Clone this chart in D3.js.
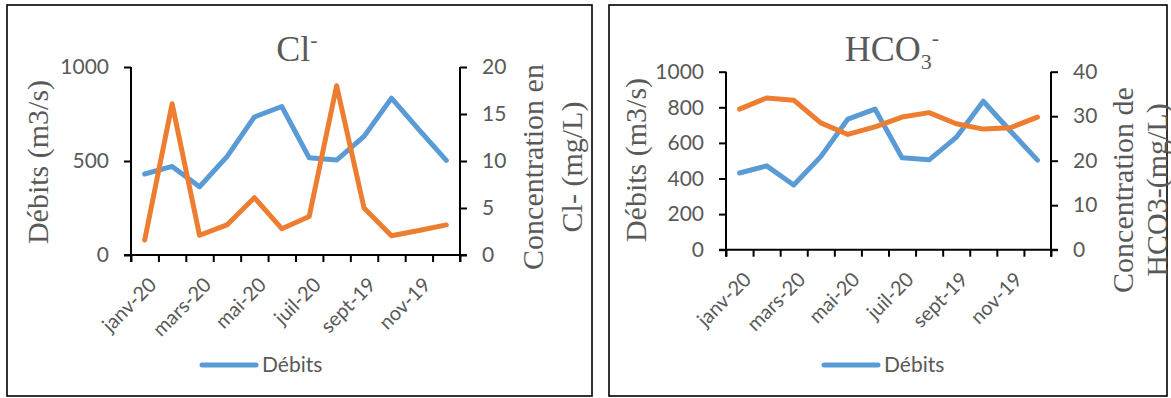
<!DOCTYPE html>
<html>
<head>
<meta charset="utf-8">
<script src="https://cdn.jsdelivr.net/npm/d3@7/dist/d3.min.js"></script>
<style>
  html, body { margin: 0; padding: 0; background: #fff; }
  svg { display: block; }
  .tick text { font-family: Lato, "Liberation Sans", sans-serif; font-size: 21px; fill: #595959; }
</style>
</head>
<body>
<svg id="chart" width="1171" height="398"></svg>
<script>
// ---- Data ----
const months = ["janv-20","févr-20","mars-20","avr-20","mai-20","juin-20","juil-20","août-20","sept-19","oct-19","nov-19","déc-19"];
const debits = [431, 471, 363, 523, 734, 790, 517, 505, 631, 834, 667, 503];
const chloride = [1.6, 16.1, 2.1, 3.2, 6.1, 2.8, 4.1, 18.0, 5.0, 2.05, 2.6, 3.2];
const bicarbonate = [31.6, 34.1, 33.6, 28.5, 25.9, 27.6, 29.8, 30.8, 28.3, 27.1, 27.4, 29.8];
const debitTicksCl = [0, 500, 1000];
const debitTicksHco3 = [0, 200, 400, 600, 800, 1000];
const clTicks = [0, 5, 10, 15, 20];
const hco3Ticks = [0, 10, 20, 30, 40];

const svg = d3.select("#chart");
const BLUE = "#5B9BD5", ORANGE = "#ED7D31", GREY = "#595959";

function drawChart(o) {
  const g = svg.append("g");
  // frame
  g.append("rect").attr("x", o.frame[0]).attr("y", o.frame[1])
    .attr("width", o.frame[2]).attr("height", o.frame[3])
    .attr("fill", "#fff").attr("stroke", "#000").attr("stroke-width", 1.6);

  const x = d3.scaleBand().domain(months).range([o.left, o.right]);
  const xi = d3.scaleLinear().domain([0, months.length]).range([o.left, o.right]);
  const yL = d3.scaleLinear().domain([0, d3.max(o.leftTicks)]).range([o.bottom, o.top]);
  const yR = d3.scaleLinear().domain([0, d3.max(o.rightTicks)]).range([o.bottom, o.top]);

  // x axis (boundary ticks)
  const xa = g.append("g").attr("transform", `translate(0,${o.bottom})`)
    .call(d3.axisBottom(xi).tickValues(d3.range(months.length + 1)).tickSize(7).tickFormat(""));
  xa.selectAll("path,line").attr("stroke", "#000").attr("stroke-width", 2);
  xa.select(".domain").attr("d", `M${o.left - 7},0H${o.right + 7}`);

  // category labels (every other)
  g.append("g").selectAll("text").data(months.filter((d, i) => i % 2 === 0)).join("text")
    .attr("transform", d => `translate(${x(d) + x.bandwidth() / 2 + 13},${o.bottom + 31}) rotate(-45)`)
    .attr("text-anchor", "end")
    .style("font-family", "Lato, 'Liberation Sans', sans-serif").style("font-size", "20px")
    .attr("fill", GREY).text(d => d);

  // left axis
  const la = g.append("g").attr("transform", `translate(${o.left},0)`)
    .call(d3.axisLeft(yL).tickValues(o.leftTicks).tickSize(7).tickPadding(15).tickFormat(d3.format("d")));
  la.selectAll("line,path").attr("stroke", "#000").attr("stroke-width", 2);
  la.select(".domain").attr("d", `M0,${o.top}V${o.bottom + 7}`);

  // right axis
  const ra = g.append("g").attr("transform", `translate(${o.right},0)`)
    .call(d3.axisRight(yR).tickValues(o.rightTicks).tickSize(7).tickPadding(15).tickFormat(d3.format("d")));
  ra.selectAll("line,path").attr("stroke", "#000").attr("stroke-width", 2);
  ra.select(".domain").attr("d", `M0,${o.top}V${o.bottom + 7}`);

  // lines
  const cx = (d, i) => x(months[i]) + x.bandwidth() / 2;
  g.append("path").datum(debits)
    .attr("d", d3.line().x(cx).y(d => yL(d)))
    .attr("fill", "none").attr("stroke", BLUE).attr("stroke-width", 5)
    .attr("stroke-linejoin", "round").attr("stroke-linecap", "round");
  g.append("path").datum(o.conc)
    .attr("d", d3.line().x(cx).y(d => yR(d)))
    .attr("fill", "none").attr("stroke", ORANGE).attr("stroke-width", 5)
    .attr("stroke-linejoin", "round").attr("stroke-linecap", "round");

  // title
  const t = g.append("text").attr("x", o.titleX).attr("y", 61)
    .attr("text-anchor", "middle")
    .style("font-family", "'Liberation Serif', 'Times New Roman', serif").style("font-size", "36px")
    .attr("fill", GREY);
  o.title(t);

  // left axis title
  g.append("text").attr("transform", `translate(${o.yTitleX},${o.yTitleY}) rotate(-90)`)
    .attr("text-anchor", "middle").attr("dy", "0.35em")
    .style("font-family", "'Liberation Serif', 'Times New Roman', serif").style("font-size", "30px")
    .attr("fill", GREY).text("Débits (m3/s)");

  // right axis title (two lines)
  o.rTitle.forEach((line, i) => {
    g.append("text").attr("transform", `translate(${o.rTitleX[i]},${o.rTitleY}) rotate(-90)`)
      .attr("text-anchor", "middle").attr("dy", "0.35em")
      .style("font-family", "'Liberation Serif', 'Times New Roman', serif").style("font-size", "30px")
      .attr("fill", GREY).text(line);
  });

  // legend
  g.append("line").attr("x1", o.legendX).attr("x2", o.legendX + 54)
    .attr("y1", 365).attr("y2", 365)
    .attr("stroke", BLUE).attr("stroke-width", 5).attr("stroke-linecap", "round");
  g.append("text").attr("x", o.legendX + 60).attr("y", 365).attr("dy", "0.35em")
    .style("font-family", "Lato, 'Liberation Sans', sans-serif").style("font-size", "21px")
    .attr("fill", GREY).text("Débits");
}

drawChart({
  frame: [7, 5, 585, 391],
  left: 131, right: 460, top: 67, bottom: 255,
  leftTicks: debitTicksCl, rightTicks: clTicks, conc: chloride,
  titleX: 297,
  title: t => { t.append("tspan").text("Cl"); t.append("tspan").attr("dy", -14).style("font-size", "22px").text("-"); },
  yTitleX: 37, yTitleY: 162,
  rTitle: ["Concentration en", "Cl- (mg/L)"], rTitleX: [532, 571], rTitleY: 167,
  legendX: 202
});

drawChart({
  frame: [609, 5, 558, 391],
  left: 726, right: 1051, top: 71.7, bottom: 249.7,
  leftTicks: debitTicksHco3, rightTicks: hco3Ticks, conc: bicarbonate,
  titleX: 892,
  title: t => {
    t.append("tspan").text("HCO");
    t.append("tspan").attr("dy", 8).style("font-size", "22px").text("3");
    t.append("tspan").attr("dy", -24).style("font-size", "22px").text("-");
  },
  yTitleX: 635, yTitleY: 160,
  rTitle: ["Concentration de", "HCO3-(mg/L)"], rTitleX: [1122, 1156], rTitleY: 190,
  legendX: 824
});
</script>
</body>
</html>
